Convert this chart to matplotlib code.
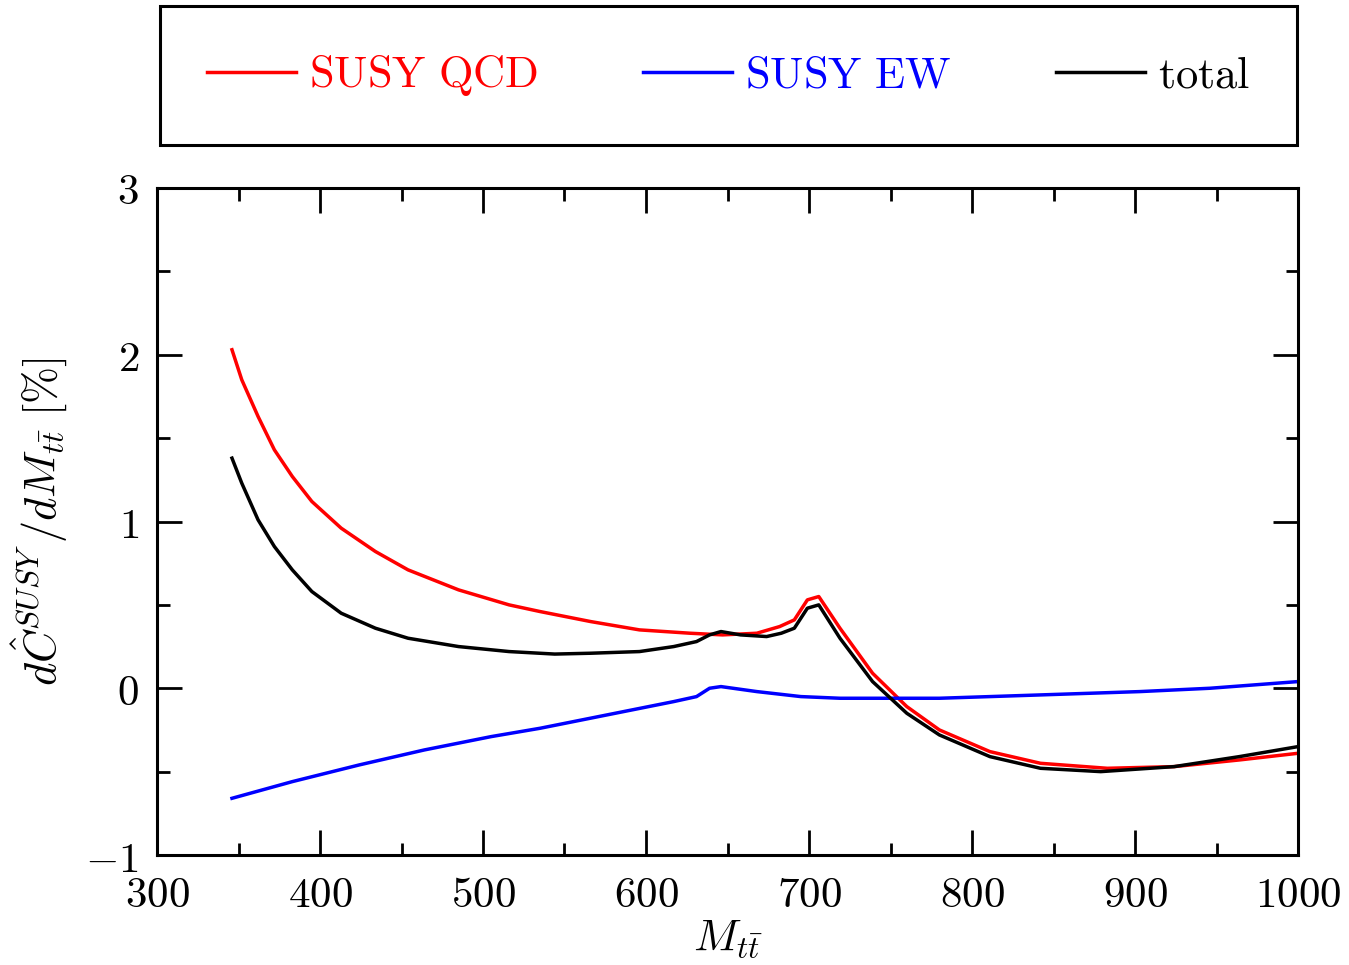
import matplotlib
matplotlib.use("Agg")
import matplotlib.pyplot as plt
from matplotlib.ticker import MultipleLocator

plt.rcParams['mathtext.fontset'] = 'cm'
plt.rcParams['font.family'] = ['DejaVu Serif']

# ---- data ----
qcd_x = [346, 352, 362, 372, 383, 395, 413, 434, 454, 485, 516, 535, 566, 596, 627, 647, 668,
         682, 691, 699, 706, 719, 739, 760, 780, 811, 842, 883, 924, 964, 1000]
qcd_y = [2.03, 1.85, 1.63, 1.43, 1.27, 1.12, 0.96, 0.82, 0.71, 0.59, 0.50, 0.46, 0.40, 0.35,
         0.33, 0.32, 0.33, 0.37, 0.41, 0.53, 0.55, 0.36, 0.09, -0.11, -0.25, -0.38, -0.45,
         -0.48, -0.47, -0.43, -0.39]

tot_x = [346, 352, 362, 372, 383, 395, 413, 434, 454, 485, 516, 544, 566, 596, 617, 631, 639,
         646, 658, 674, 683, 691, 699, 706, 719, 739, 760, 780, 811, 842, 879, 924, 964, 1000]
tot_y = [1.38, 1.23, 1.01, 0.85, 0.71, 0.58, 0.45, 0.36, 0.30, 0.25, 0.22, 0.205, 0.21, 0.22,
         0.25, 0.28, 0.32, 0.34, 0.32, 0.31, 0.33, 0.36, 0.48, 0.50, 0.30, 0.04, -0.15, -0.28,
         -0.41, -0.48, -0.50, -0.47, -0.41, -0.35]

ew_x = [346, 383, 424, 464, 505, 535, 576, 617, 631, 639, 646, 668, 695, 719, 780, 842, 903,
        946, 1000]
ew_y = [-0.66, -0.56, -0.46, -0.37, -0.29, -0.24, -0.16, -0.08, -0.05, 0.00, 0.01, -0.02,
        -0.05, -0.06, -0.06, -0.04, -0.02, 0.00, 0.04]

xticks = [300, 400, 500, 600, 700, 800, 900, 1000]
yticks = [-1, 0, 1, 2, 3]
labels = [r'$\mathrm{SUSY\ QCD}$', r'$\mathrm{SUSY\ EW}$', r'$\mathrm{total}$']
colors = ['#ff0000', '#0000ff', '#000000']

# ---- figure ----
W, H = 1349, 965
fig = plt.figure(figsize=(W / 100, H / 100), dpi=100)
ax = fig.add_axes([157 / W, 1 - 855 / H, (1298 - 157) / W, (855 - 188) / H])

lw = 2.5
l1, = ax.plot(qcd_x, qcd_y, color=colors[0], lw=lw, label=labels[0], solid_joinstyle='round')
l2, = ax.plot(ew_x, ew_y, color=colors[1], lw=lw, label=labels[1], solid_joinstyle='round')
l3, = ax.plot(tot_x, tot_y, color=colors[2], lw=lw, label=labels[2], solid_joinstyle='round')

ax.set_xlim(300, 1000)
ax.set_ylim(-1, 3)
ax.set_xticks(xticks)
ax.set_yticks(yticks)
ax.set_xticklabels([r'$%d$' % v for v in xticks])
ax.set_yticklabels([r'$%d$' % v for v in yticks])
ax.xaxis.set_minor_locator(MultipleLocator(50))
ax.yaxis.set_minor_locator(MultipleLocator(0.5))
ax.tick_params(which='both', direction='in', top=True, right=True, width=2.0,
               labelsize=31, color='black')
ax.tick_params(which='major', length=18)
ax.tick_params(axis='x', which='major', pad=14)
ax.tick_params(axis='y', which='major', pad=13)
ax.tick_params(which='minor', length=9)
for s in ax.spines.values():
    s.set_linewidth(2.2)

ax.set_xlabel(r'$M_{t\bar{t}}$', fontsize=32, labelpad=0)
ax.set_ylabel(r'$d\hat{C}^{SUSY}\,/dM_{t\bar{t}}\ [\%]$', fontsize=32, labelpad=12)

leg = fig.legend(handles=[l1, l2, l3], labels=labels, ncol=3, mode='expand',
                 loc='center',
                 bbox_to_anchor=(160 / W, 1 - 143 / H, (1297 - 160) / W, (143 - 8) / H),
                 borderaxespad=0, fontsize=32, handlelength=2.0, handletextpad=0.3,
                 borderpad=1.05, fancybox=False, edgecolor='black', framealpha=1)
leg.get_frame().set_linewidth(2.2)
for t, c in zip(leg.get_texts(), colors):
    t.set_color(c)

fig.savefig('out.png', dpi=100)
